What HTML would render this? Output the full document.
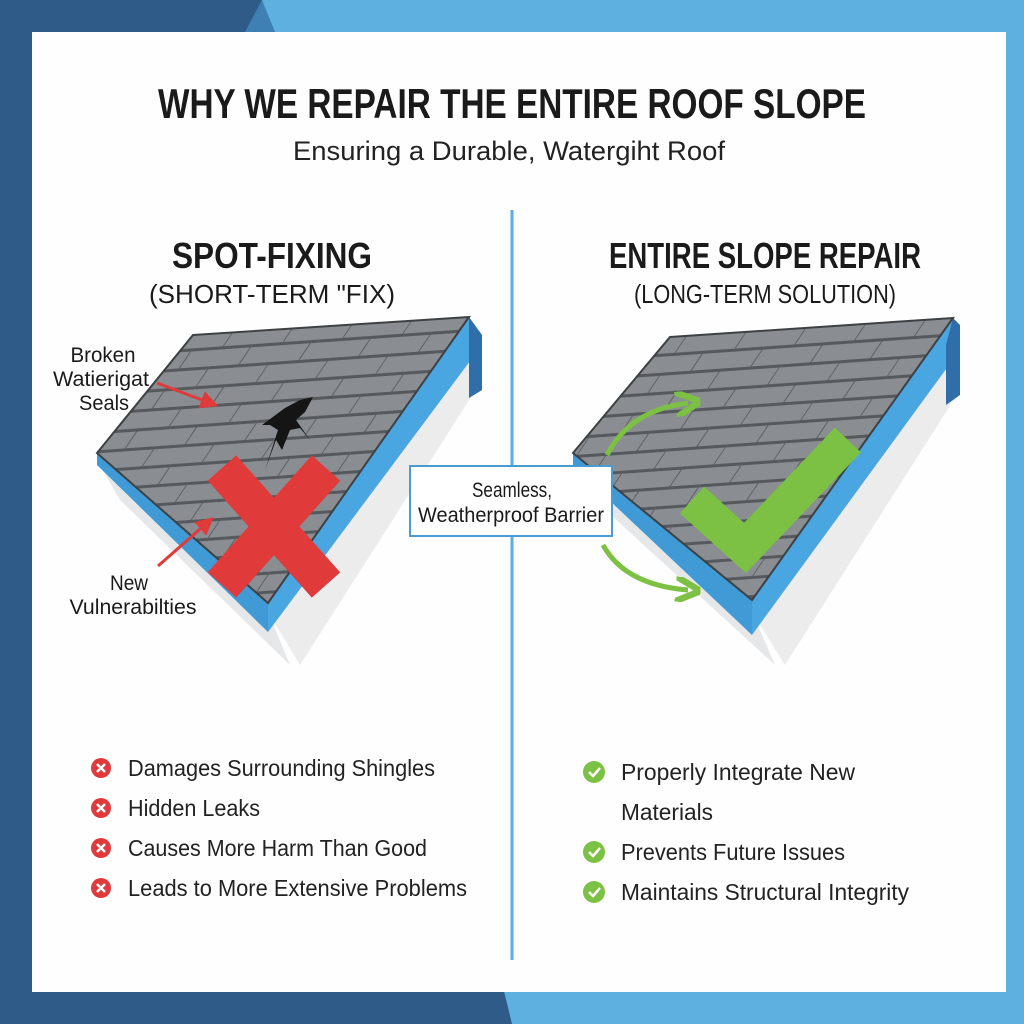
<!DOCTYPE html>
<html><head><meta charset="utf-8"><style>
body{margin:0;width:1024px;height:1024px;overflow:hidden;font-family:"Liberation Sans Narrow","Liberation Sans",sans-serif;}
</style></head><body>
<svg width="1024" height="1024" viewBox="0 0 1024 1024" xmlns="http://www.w3.org/2000/svg">
<defs>
<pattern id="sh" width="60" height="38" patternUnits="userSpaceOnUse" patternTransform="rotate(-4) skewX(-38)">
<rect width="60" height="38" fill="#8a8d91"/>
<rect x="0" y="0" width="60" height="3" fill="#55585c"/>
<rect x="0" y="19" width="60" height="3" fill="#55585c"/>
<line x1="0.5" y1="0" x2="0.5" y2="19" stroke="#5a5d61" stroke-width="1.2"/>
<line x1="30" y1="19" x2="30" y2="38" stroke="#5a5d61" stroke-width="1.2"/>
</pattern>
<marker id="ra" markerWidth="6" markerHeight="6" refX="3" refY="3" orient="auto"><path d="M0,0 L6,3 L0,6 z" fill="#e03a3a"/></marker>
<marker id="ga" markerWidth="5" markerHeight="5" refX="2.5" refY="2.5" orient="auto"><path d="M0,0 L5,2.5 L0,5" fill="none" stroke="#7cc044" stroke-width="1.3"/></marker>
</defs>
<rect width="1024" height="1024" fill="#2e5b87"/>
<polygon points="262,0 1024,0 1024,1024 512,1024" fill="#5eb0e0"/>
<polygon points="245,32 262,0 275,32" fill="#3f80b4"/>
<rect x="32" y="32" width="974" height="960" fill="#fefefe"/>

<text x="512" y="118" text-anchor="middle" font-size="42" font-weight="bold" fill="#1a1a1a" textLength="708" lengthAdjust="spacingAndGlyphs">WHY WE REPAIR THE ENTIRE ROOF SLOPE</text>
<text x="509" y="160" text-anchor="middle" font-size="27" fill="#222" textLength="432" lengthAdjust="spacingAndGlyphs">Ensuring a Durable, Watergiht Roof</text>

<line x1="512" y1="210" x2="512" y2="960" stroke="#5aaee0" stroke-width="3"/>

<text x="272" y="268" text-anchor="middle" font-size="36" font-weight="bold" fill="#1a1a1a" textLength="200" lengthAdjust="spacingAndGlyphs">SPOT-FIXING</text>
<text x="272" y="303" text-anchor="middle" font-size="26" fill="#1a1a1a" textLength="246" lengthAdjust="spacingAndGlyphs">(SHORT-TERM "FIX)</text>
<text x="765" y="268" text-anchor="middle" font-size="36" font-weight="bold" fill="#1a1a1a" textLength="312" lengthAdjust="spacingAndGlyphs">ENTIRE SLOPE REPAIR</text>
<text x="765" y="303" text-anchor="middle" font-size="26" fill="#1a1a1a" textLength="262" lengthAdjust="spacingAndGlyphs">(LONG-TERM SOLUTION)</text>

<!-- left roof -->
<polygon points="97,460 268,612 290,665 120,500" fill="#e6e7e8"/>
<polygon points="268,612 480,330 482,380 300,665" fill="#ececed"/>
<polygon points="97,453 268,603 268,632 97,465" fill="#3f9ad6"/>
<polygon points="268,603 469,317 482,345 268,632" fill="#4aa6e0"/>
<polygon points="469,317 482,335 482,390 469,398" fill="#2f6ea8"/>
<polygon points="193,335 469,317 268,603 97,453" fill="url(#sh)" stroke="#3e4144" stroke-width="2"/>
<path d="M262,425 L285,408 L300,400 L313,397 L305,412 L296,420 L310,440 L300,428 L290,430 L282,450 L276,440 L265,470 L278,430 L270,425 Z" fill="#151515"/>
<line x1="222" y1="468" x2="326" y2="585" stroke="#e03a3a" stroke-width="38"/>
<line x1="326" y1="468" x2="222" y2="585" stroke="#e03a3a" stroke-width="38"/>
<line x1="157" y1="383" x2="210" y2="403" stroke="#e03a3a" stroke-width="3" marker-end="url(#ra)"/>
<line x1="158" y1="566" x2="207" y2="523" stroke="#e03a3a" stroke-width="3" marker-end="url(#ra)"/>
<g font-size="21" fill="#1a1a1a" text-anchor="middle" lengthAdjust="spacingAndGlyphs">
<text x="103" y="362" textLength="65" lengthAdjust="spacingAndGlyphs">Broken</text>
<text x="101" y="386" textLength="96" lengthAdjust="spacingAndGlyphs">Watierigat</text>
<text x="104" y="410" textLength="50" lengthAdjust="spacingAndGlyphs">Seals</text>
<text x="129" y="590" textLength="38" lengthAdjust="spacingAndGlyphs">New</text>
<text x="133" y="614" textLength="127" lengthAdjust="spacingAndGlyphs">Vulnerabilties</text>
</g>

<!-- right roof -->
<polygon points="573,460 752,612 775,665 600,505" fill="#e6e7e8"/>
<polygon points="752,612 958,340 960,390 785,665" fill="#ececed"/>
<polygon points="573,453 752,600 752,635 573,466" fill="#3f9ad6"/>
<polygon points="752,600 953,318 960,350 752,635" fill="#4aa6e0"/>
<polygon points="953,318 960,325 960,395 946,405 946,345" fill="#2f6ea8"/>
<polygon points="670,337 953,318 752,600 573,453" fill="url(#sh)" stroke="#3e4144" stroke-width="2"/>
<polyline points="692,500 745,548 848,440" fill="none" stroke="#7cc044" stroke-width="36"/>
<path d="M607,455 Q630,410 688,403" fill="none" stroke="#7cc044" stroke-width="5" marker-end="url(#ga)"/>
<path d="M603,545 Q625,585 688,590" fill="none" stroke="#7cc044" stroke-width="5" marker-end="url(#ga)"/>

<rect x="410" y="466" width="202" height="70" fill="#fff" stroke="#4a9bd0" stroke-width="2"/>
<text x="512" y="497" text-anchor="middle" font-size="21" fill="#1a1a1a" textLength="80" lengthAdjust="spacingAndGlyphs">Seamless,</text>
<text x="511" y="522" text-anchor="middle" font-size="21" fill="#1a1a1a" textLength="186" lengthAdjust="spacingAndGlyphs">Weatherproof Barrier</text>

<g font-size="23" fill="#222">
<g fill="#e03a3a"><circle cx="101" cy="768" r="10"/><circle cx="101" cy="808" r="10"/><circle cx="101" cy="848" r="10"/><circle cx="101" cy="888" r="10"/></g>
<g stroke="#fff" stroke-width="2.5"><path d="M97,764l8,8M105,764l-8,8M97,804l8,8M105,804l-8,8M97,844l8,8M105,844l-8,8M97,884l8,8M105,884l-8,8"/></g>
<text x="128" y="776" textLength="307" lengthAdjust="spacingAndGlyphs">Damages Surrounding Shingles</text>
<text x="128" y="816" textLength="132" lengthAdjust="spacingAndGlyphs">Hidden Leaks</text>
<text x="128" y="856" textLength="299" lengthAdjust="spacingAndGlyphs">Causes More Harm Than Good</text>
<text x="128" y="896" textLength="339" lengthAdjust="spacingAndGlyphs">Leads to More Extensive Problems</text>
<g fill="#7cc044"><circle cx="594" cy="772" r="11"/><circle cx="594" cy="852" r="11"/><circle cx="594" cy="892" r="11"/></g>
<g stroke="#fff" stroke-width="2.5" fill="none"><path d="M589,772l4,4 7,-8M589,852l4,4 7,-8M589,892l4,4 7,-8"/></g>
<text x="621" y="780" textLength="234" lengthAdjust="spacingAndGlyphs">Properly Integrate New</text>
<text x="621" y="820" textLength="92" lengthAdjust="spacingAndGlyphs">Materials</text>
<text x="621" y="860" textLength="224" lengthAdjust="spacingAndGlyphs">Prevents Future Issues</text>
<text x="621" y="900" textLength="288" lengthAdjust="spacingAndGlyphs">Maintains Structural Integrity</text>
</g>
</svg>
</body></html>
